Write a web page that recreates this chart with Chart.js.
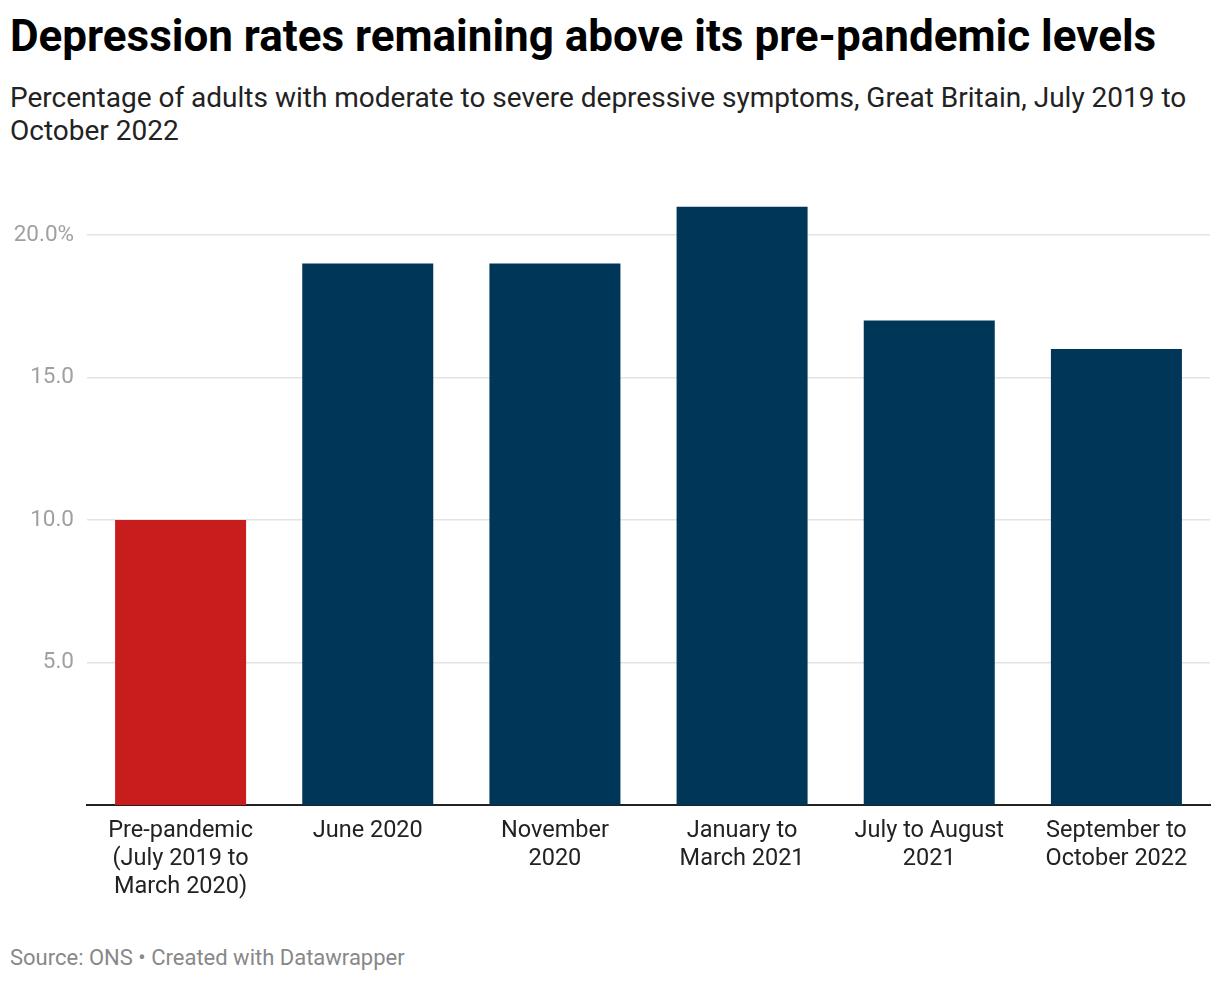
<!DOCTYPE html>
<html>
<head>
<meta charset="utf-8">
<script src="https://cdn.jsdelivr.net/npm/chart.js@4"></script>
<style>
  body { margin: 0; background: #fff; font-family: Roboto, sans-serif; }
  #title { position: absolute; left: 10px; top: 10px; font-size: 44px; font-weight: 700; color: #000; line-height: 52px; }
  #subtitle { position: absolute; left: 10px; top: 81px; width: 1200px; font-size: 28px; color: #222; line-height: 33px; }
  #wrap { position: absolute; left: 0; top: 180px; width: 1220px; height: 740px; }
  #source { position: absolute; left: 10px; top: 945px; font-size: 22px; color: #888; }
</style>
</head>
<body>
<div id="title">Depression rates remaining above its pre-pandemic levels</div>
<div id="subtitle">Percentage of adults with moderate to severe depressive symptoms, Great Britain, July 2019 to October 2022</div>
<div id="wrap"><canvas id="myChart"></canvas></div>
<div id="source">Source: ONS • Created with Datawrapper</div>
<script>
// Categories and values (percent of adults)
const labels = [
  ["Pre-pandemic", "(July 2019 to", "March 2020)"],
  "June 2020",
  ["November", "2020"],
  ["January to", "March 2021"],
  ["July to August", "2021"],
  ["September to", "October 2022"]
];
const values = [10, 19, 19, 21, 17, 16];
const barColors = ["#c71e1d", "#003759", "#003759", "#003759", "#003759", "#003759"];
const yTicks = [5, 10, 15, 20];

const ctx = document.getElementById("myChart").getContext("2d");
const myChart = new Chart(ctx, {
  type: "bar",
  data: {
    labels: labels,
    datasets: [{
      data: values,
      backgroundColor: barColors,
      categoryPercentage: 1,
      barPercentage: 0.7
    }]
  },
  options: {
    responsive: true,
    maintainAspectRatio: false,
    animation: false,
    layout: { padding: { left: 10, right: 10, top: 26, bottom: 0 } },
    plugins: { legend: { display: false }, tooltip: { enabled: false } },
    scales: {
      x: {
        z: 1,
        grid: { display: false, drawTicks: false },
        border: { display: true, color: "#222", width: 2 },
        ticks: {
          color: "#222",
          padding: 12,
          maxRotation: 0,
          autoSkip: false,
          font: { family: "Roboto", size: 23.5, lineHeight: 1.2 }
        },
        afterFit: function (scale) { scale.height = 115; }
      },
      y: {
        min: 0,
        max: 21,
        afterBuildTicks: function (scale) {
          scale.ticks = yTicks.map(function (v) { return { value: v }; });
        },
        grid: { color: "#e3e3e3", lineWidth: 1.5, drawTicks: false },
        border: { display: false },
        ticks: {
          color: "#a0a0a0",
          padding: 13,
          font: { family: "Roboto", size: 22.5 },
          callback: function (v) { return v === 20 ? "20.0%" : v.toFixed(1); }
        },
        afterFit: function (scale) { scale.width = 77; }
      }
    }
  }
});
</script>
</body>
</html>
